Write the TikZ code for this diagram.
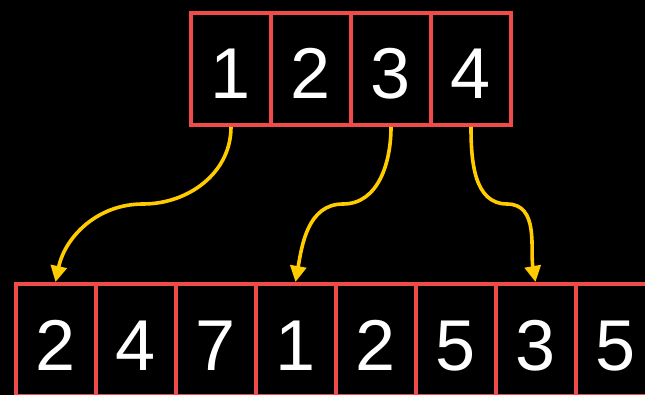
\documentclass[tikz,border=0pt]{standalone}
\usepackage{fontspec}
\setmainfont{Liberation Sans}
\usetikzlibrary{arrows.meta}
\definecolor{cellred}{HTML}{F04B4B}
\definecolor{linkgold}{HTML}{FFCC00}
\begin{document}
\begin{tikzpicture}[x=1pt,y=-1pt,
  cell/.style={draw=cellred, line width=4pt, minimum width=80pt, minimum height=112pt,
    inner sep=0pt, text=white, text height=60pt, text depth=0pt,
    font=\fontsize{72}{80}\selectfont},
  link/.style={draw=linkgold, line width=3.6pt,
    -{Triangle[width=16pt,length=16pt]}}]
  \fill[black] (0,0) rectangle (645,395);
  \useasboundingbox (0,0) rectangle (645,395);
  \clip (0,0) rectangle (645,395);

  % source row
  \foreach \d [count=\i] in {1,2,3,4}
    \node[cell] (t\i) at (151+80*\i,69) {\d};

  % target row (runs past the right and bottom edges)
  \foreach \d [count=\i] in {2,4,7,1,2,5,3,5}
    \node[cell] (b\i) at (-24.5+80*\i,340) {\d};

  % bend points of the connectors
  \coordinate (m1) at (143,204);
  \coordinate (m2) at (343,204);
  \coordinate (m3) at (507,204);

  \draw[link] (t1.south) to[out=-90,in=0] (m1) to[out=180,in=78] (b1.north);
  \draw[link] (t3.south) to[out=-90,in=0] (m2) to[out=180,in=80] (b4.north);
  \draw[link] (t4.south) to[out=-90,in=180] (m3) to[out=0,in=100] (b7.north);
\end{tikzpicture}
\end{document}
